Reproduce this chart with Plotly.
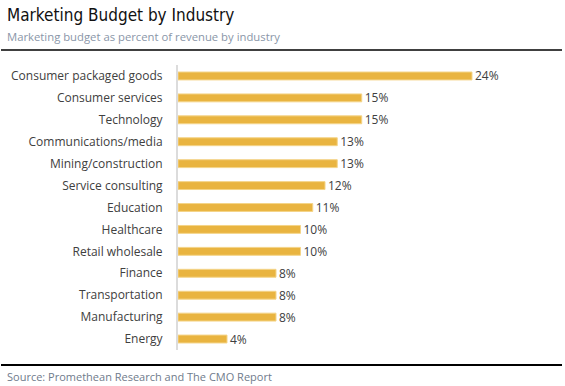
import plotly.graph_objects as go

industries = [
    "Consumer packaged goods", "Consumer services", "Technology",
    "Communications/media", "Mining/construction", "Service consulting",
    "Education", "Healthcare", "Retail wholesale", "Finance",
    "Transportation", "Manufacturing", "Energy",
]
budget_pct = [24, 15, 15, 13, 13, 12, 11, 10, 10, 8, 8, 8, 4]
value_labels = [f"{v}%" for v in budget_pct]

title = "Marketing Budget by Industry"
subtitle = "Marketing budget as percent of revenue by industry"
source = "Source: Promethean Research and The CMO Report"

W, H = 565, 386
ML, MR, MT, MB = 178, 20, 65, 36
PW = W - ML - MR
PH = H - MT - MB

def px(x):
    return (x - ML) / PW

def py(y):
    return (H - MB - y) / PH

fig = go.Figure(go.Bar(
    x=budget_pct,
    y=industries,
    orientation="h",
    width=0.36,
    marker=dict(color="#E9B440", line=dict(color="#F4D488", width=1)),
    text=value_labels,
    textposition="outside",
    constraintext="none",
    textfont=dict(family="Open Sans, sans-serif", size=12, color="#404040"),
    cliponaxis=False,
    hoverinfo="skip",
))

fig.update_layout(
    width=W, height=H,
    margin=dict(l=ML, r=MR, t=MT, b=MB),
    paper_bgcolor="white", plot_bgcolor="white",
    showlegend=False,
    xaxis=dict(range=[0, 29.96], visible=False, fixedrange=True),
    yaxis=dict(
        categoryorder="array", categoryarray=industries[::-1],
        range=[-0.5, len(industries) - 0.5],
        showline=True, linecolor="#DCDCDC", linewidth=2,
        showgrid=False, ticks="", ticklabelstandoff=11,
        tickfont=dict(family="Open Sans, sans-serif", size=12, color="#404040"),
        fixedrange=True,
    ),
    shapes=[
        dict(type="line", xref="paper", yref="paper", layer="above",
             x0=px(1), x1=px(562), y0=py(50), y1=py(50),
             line=dict(color="black", width=1.5)),
        dict(type="line", xref="paper", yref="paper", layer="above",
             x0=px(1), x1=px(562), y0=py(365), y1=py(365),
             line=dict(color="black", width=2)),
    ],
    annotations=[
        dict(text=title, xref="paper", yref="paper", x=px(5), y=py(15),
             xanchor="left", yanchor="middle", showarrow=False,
             font=dict(family="Liberation Sans Narrow, DejaVu Sans Condensed, sans-serif",
                       size=17, color="#111111")),
        dict(text=subtitle, xref="paper", yref="paper", x=px(5), y=py(37),
             xanchor="left", yanchor="middle", showarrow=False,
             font=dict(family="Open Sans, sans-serif", size=11.3, color="#8A96A8")),
        dict(text=source, xref="paper", yref="paper", x=px(5), y=py(376),
             xanchor="left", yanchor="middle", showarrow=False,
             font=dict(family="Open Sans, sans-serif", size=11, color="#6F7B8C")),
    ],
)

fig.write_html("out.html", config={"displayModeBar": False},
               post_script="document.body.style.margin='0';")
